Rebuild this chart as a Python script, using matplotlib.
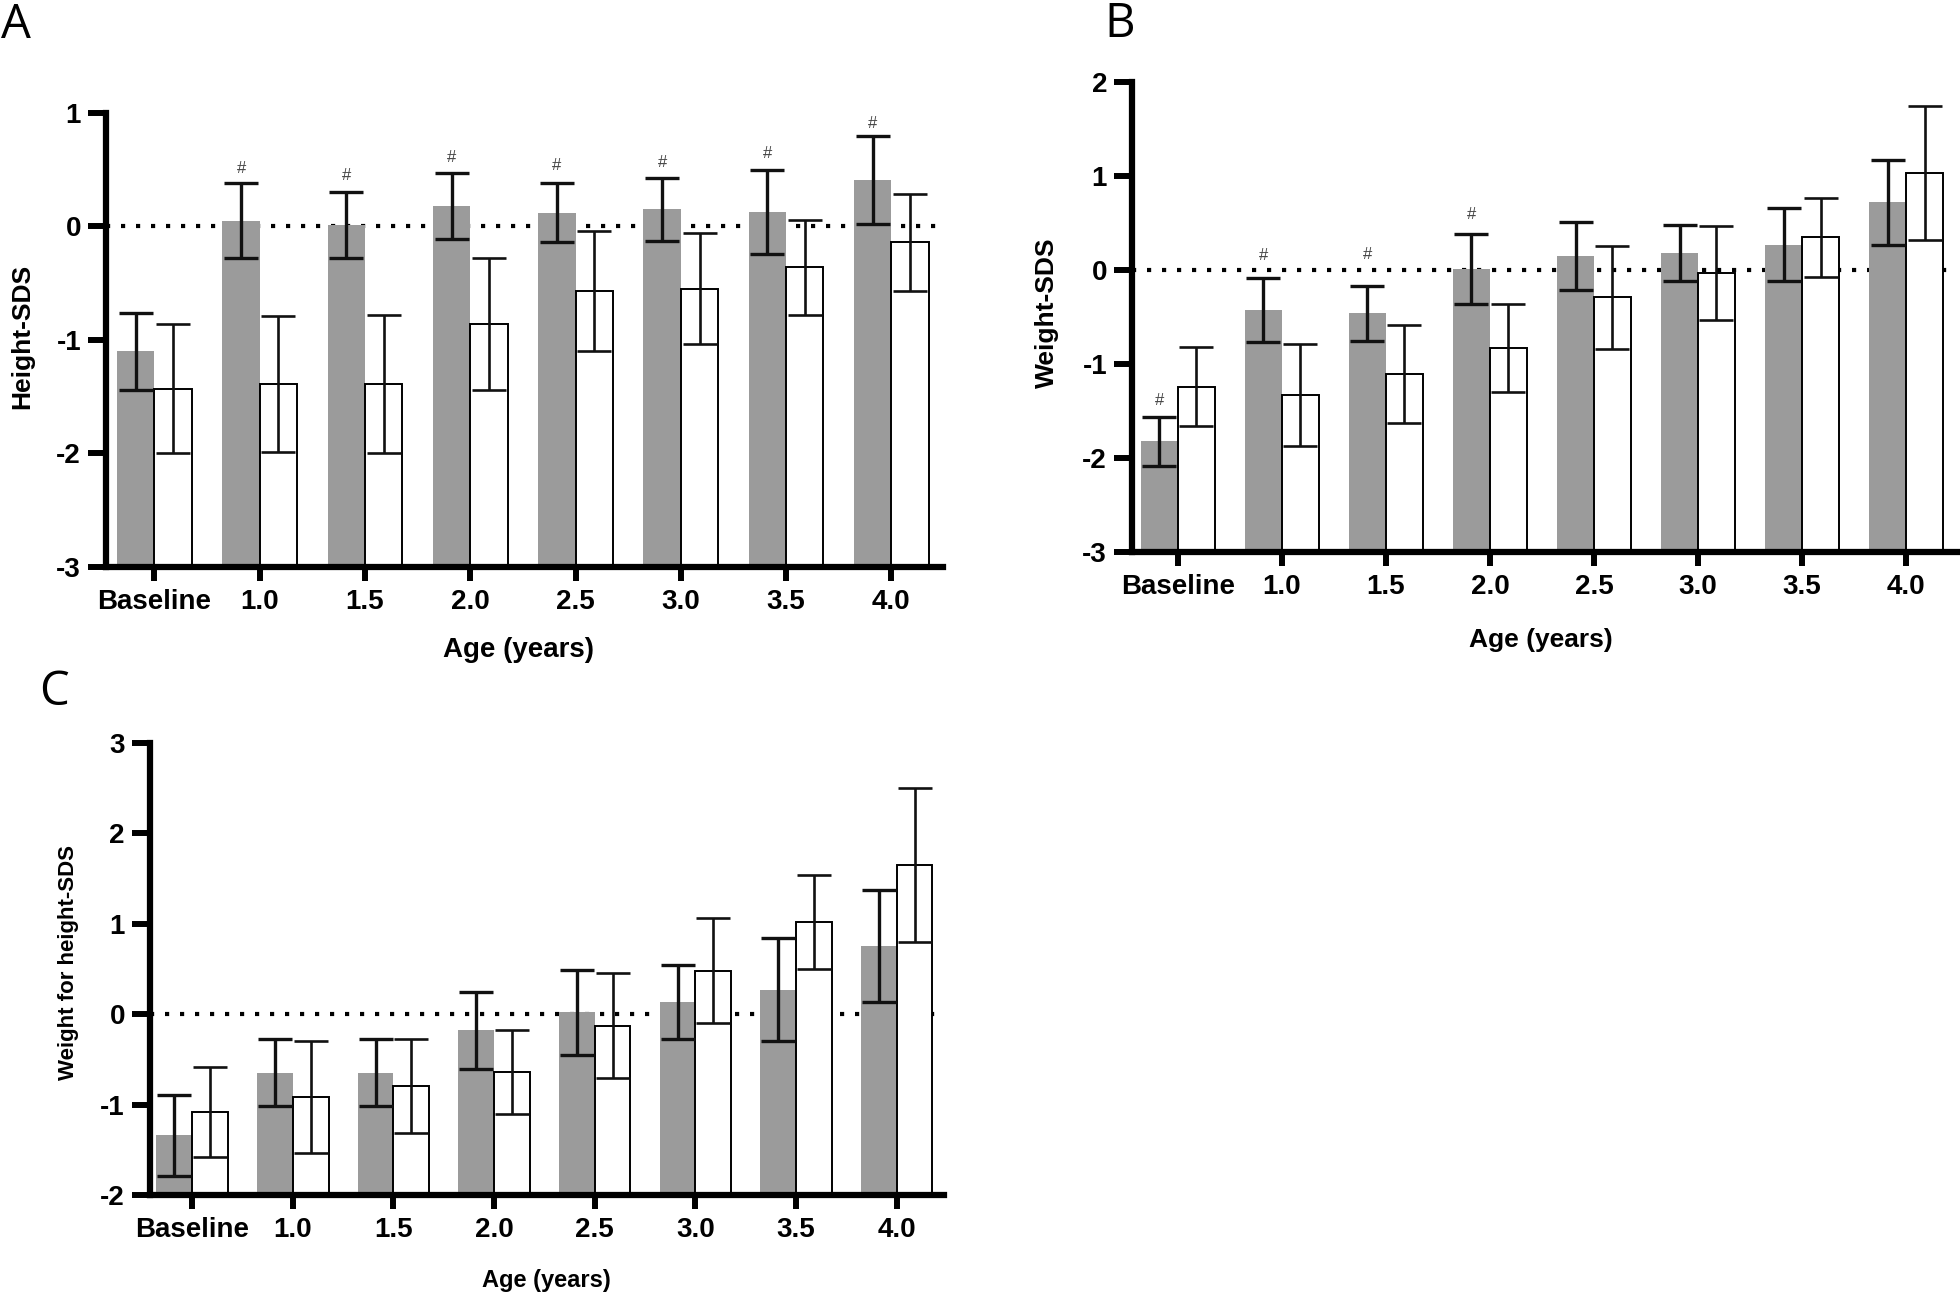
import numpy as np
import matplotlib
matplotlib.use("Agg")
import matplotlib.pyplot as plt

plt.rcParams["axes.unicode_minus"] = False

ages = ["Baseline", "1.0", "1.5", "2.0", "2.5", "3.0", "3.5", "4.0"]

# A - Height-SDS
height_gray = [-1.10, 0.05, 0.01, 0.18, 0.12, 0.15, 0.13, 0.41]
height_gray_sd = [0.34, 0.33, 0.29, 0.29, 0.26, 0.28, 0.37, 0.39]
height_white = [-1.43, -1.39, -1.39, -0.86, -0.57, -0.55, -0.36, -0.14]
height_white_sd = [0.57, 0.60, 0.61, 0.58, 0.53, 0.49, 0.42, 0.43]
# posicion (abajo) de las marcas "#", None = sin marca
height_marks = [None, 0.44, 0.38, 0.54, 0.47, 0.50, 0.58, 0.84]

# B - Weight-SDS
weight_gray = [-1.82, -0.43, -0.46, 0.01, 0.15, 0.18, 0.27, 0.72]
weight_gray_sd = [0.26, 0.34, 0.29, 0.37, 0.36, 0.30, 0.39, 0.45]
weight_white = [-1.24, -1.33, -1.11, -0.83, -0.29, -0.03, 0.35, 1.03]
weight_white_sd = [0.42, 0.54, 0.52, 0.47, 0.55, 0.50, 0.42, 0.71]
weight_marks = [-1.47, 0.08, 0.09, 0.51, None, None, None, None]

# C - Weight for height-SDS
wfh_gray = [-1.34, -0.65, -0.65, -0.18, 0.02, 0.13, 0.27, 0.75]
wfh_gray_sd = [0.45, 0.37, 0.37, 0.43, 0.47, 0.41, 0.57, 0.62]
wfh_white = [-1.08, -0.92, -0.80, -0.64, -0.13, 0.48, 1.02, 1.65]
wfh_white_sd = [0.50, 0.62, 0.52, 0.46, 0.58, 0.58, 0.52, 0.85]
wfh_marks = [None] * 8

GRAY = "#9b9b9b"
SANS = ["Liberation Sans", "DejaVu Sans"]


def plot_panel(ax, gray, gray_sd, white, white_sd, marks, ylim, ylabel, xlim,
               tick_fs, xlabel_fs, ylabel_fs, xlabel_pos, ylabel_pos):
    """Barras gris/blanco con barras de error, linea punteada en 0."""
    x = np.arange(len(ages))
    w = 0.355
    base = ylim[0]
    gray = np.array(gray)
    white = np.array(white)

    ax.axhline(0, color="black", lw=3, ls=(0, (1, 2.6)), zorder=1)
    ax.bar(x - w / 2, gray - base, w, bottom=base, color=GRAY, zorder=2)
    ax.bar(x + w / 2, white - base, w, bottom=base, color="white",
           edgecolor="black", linewidth=1.4, zorder=2)
    ax.errorbar(x - w / 2, gray, yerr=gray_sd, fmt="none", ecolor="#111111",
                elinewidth=2.4, capsize=12, capthick=2.4, zorder=3)
    ax.errorbar(x + w / 2, white, yerr=white_sd, fmt="none", ecolor="#111111",
                elinewidth=1.9, capsize=12, capthick=1.9, zorder=3)
    for xi, m in zip(x, marks):
        if m is not None:
            ax.text(xi - w / 2, m, "#", ha="center", va="bottom",
                    fontsize=12, color="#444444", family=SANS)

    ax.set_ylim(ylim)
    ax.set_xlim(xlim)
    ax.set_yticks(np.arange(ylim[0], ylim[1] + 1))
    ax.set_xticks(x)
    ax.set_xticklabels(ages)
    for sp in ["top", "right"]:
        ax.spines[sp].set_visible(False)
    for sp in ["left", "bottom"]:
        ax.spines[sp].set_linewidth(4.5)
    ax.tick_params(axis="x", length=10, width=4.3, pad=6)
    ax.tick_params(axis="y", length=13, width=4.3, pad=5)
    for lab in ax.get_xticklabels() + ax.get_yticklabels():
        lab.set_family(SANS)
        lab.set_fontweight("bold")
        lab.set_fontsize(tick_fs)
    ax.set_xlabel("Age (years)", family=SANS, fontweight="bold",
                  fontsize=xlabel_fs)
    ax.set_ylabel(ylabel, family=SANS, fontweight="bold", fontsize=ylabel_fs)
    ax.xaxis.set_label_coords(*xlabel_pos)
    ax.yaxis.set_label_coords(*ylabel_pos)
    ax.xaxis.label.set_va("center")
    ax.yaxis.label.set_va("center")


fig = plt.figure(figsize=(19.6, 12.98), dpi=100)

ax_a = fig.add_axes([0.0541, 0.5632, 0.4270, 0.3498])
plot_panel(ax_a, height_gray, height_gray_sd, height_white, height_white_sd,
           height_marks, (-3, 1), "Height-SDS", (-0.46, 7.49),
           20, 20, 19, (0.493, -0.183), (-0.100, 0.507))

ax_b = fig.add_axes([0.5776, 0.5747, 0.4209, 0.3621])
plot_panel(ax_b, weight_gray, weight_gray_sd, weight_white, weight_white_sd,
           weight_marks, (-3, 2), "Weight-SDS", (-0.44, 7.49),
           20, 19, 19, (0.496, -0.187), (-0.103, 0.51))

ax_c = fig.add_axes([0.0765, 0.0794, 0.4051, 0.3482])
plot_panel(ax_c, wfh_gray, wfh_gray_sd, wfh_white, wfh_white_sd,
           wfh_marks, (-2, 3), "Weight for height-SDS", (-0.42, 7.47),
           20, 17, 16, (0.499, -0.19), (-0.102, 0.515))

letter_font = ["Open Sans", "DejaVu Sans"]
fig.text(0.0005, 0.9707, "A", fontsize=34, family=letter_font, va="baseline")
fig.text(0.5635, 0.9715, "B", fontsize=34, family=letter_font, va="baseline")
fig.text(0.0200, 0.4565, "C", fontsize=34, family=letter_font, va="baseline")

fig.savefig("out.png", dpi=100)
